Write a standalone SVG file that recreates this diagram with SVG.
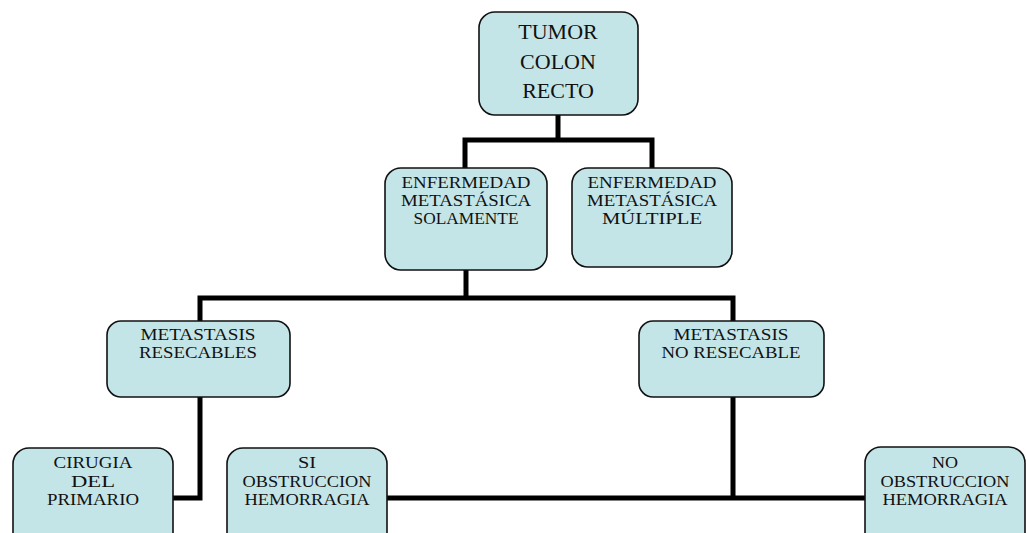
<svg xmlns="http://www.w3.org/2000/svg" width="1026" height="533" viewBox="0 0 1026 533">
<style>
.box{fill:#c4e5e8;stroke:#111;stroke-width:1.6}
text{font-family:'Liberation Serif','DejaVu Serif',serif;fill:#111;text-anchor:middle}
.big{font-size:22px}
.sm{font-size:16px}
.c{fill:none;stroke:#000;stroke-width:5;stroke-linejoin:miter}
</style>
<rect width="1026" height="533" fill="#fff"/>
<g id="connectors">
<path class="c" d="M558 115V140M465 168V140H652V168"/>
<path class="c" d="M466 270V298M200 321V298H733V321"/>
<path class="c" d="M200 397V498H173"/>
<path class="c" d="M733 397V498M387 498H865"/>
</g>
<g id="n-tumor">
<rect class="box" x="479" y="12" width="159" height="103" rx="16"/>
<text class="big" x="558" y="39">TUMOR</text>
<text class="big" x="558" y="68.5">COLON</text>
<text class="big" x="558" y="98">RECTO</text>
</g>
<g id="n-solamente">
<rect class="box" x="385" y="168" width="162" height="102" rx="16"/>
<text class="sm" x="466" y="188" textLength="129" lengthAdjust="spacingAndGlyphs">ENFERMEDAD</text>
<text class="sm" x="466" y="206" textLength="130" lengthAdjust="spacingAndGlyphs">METASTÁSICA</text>
<text class="sm" x="466" y="224" textLength="105" lengthAdjust="spacingAndGlyphs">SOLAMENTE</text>
</g>
<g id="n-multiple">
<rect class="box" x="572" y="168" width="160" height="99" rx="16"/>
<text class="sm" x="652" y="188" textLength="129" lengthAdjust="spacingAndGlyphs">ENFERMEDAD</text>
<text class="sm" x="652" y="206" textLength="130" lengthAdjust="spacingAndGlyphs">METASTÁSICA</text>
<text class="sm" x="652" y="224" textLength="100" lengthAdjust="spacingAndGlyphs">MÚLTIPLE</text>
</g>
<g id="n-resecables">
<rect class="box" x="107" y="321" width="183" height="76" rx="14"/>
<text class="sm" x="198" y="340" textLength="115" lengthAdjust="spacingAndGlyphs">METASTASIS</text>
<text class="sm" x="198" y="358" textLength="118" lengthAdjust="spacingAndGlyphs">RESECABLES</text>
</g>
<g id="n-noresecable">
<rect class="box" x="639" y="321" width="185" height="76" rx="14"/>
<text class="sm" x="731" y="340" textLength="115" lengthAdjust="spacingAndGlyphs">METASTASIS</text>
<text class="sm" x="731" y="358" textLength="139" lengthAdjust="spacingAndGlyphs">NO RESECABLE</text>
</g>
<g id="n-cirugia">
<rect class="box" x="13" y="448" width="160" height="110" rx="16"/>
<text class="sm" x="93" y="468" textLength="79" lengthAdjust="spacingAndGlyphs">CIRUGIA</text>
<text class="sm" x="93" y="486.5" textLength="44" lengthAdjust="spacingAndGlyphs">DEL</text>
<text class="sm" x="93" y="505" textLength="92" lengthAdjust="spacingAndGlyphs">PRIMARIO</text>
</g>
<g id="n-si">
<rect class="box" x="227" y="448" width="160" height="110" rx="16"/>
<text class="sm" x="307" y="468" textLength="18" lengthAdjust="spacingAndGlyphs">SI</text>
<text class="sm" x="307" y="486.5" textLength="129" lengthAdjust="spacingAndGlyphs">OBSTRUCCION</text>
<text class="sm" x="307" y="505" textLength="125" lengthAdjust="spacingAndGlyphs">HEMORRAGIA</text>
</g>
<g id="n-no">
<rect class="box" x="865" y="447" width="160" height="110" rx="16"/>
<text class="sm" x="945" y="468" textLength="26" lengthAdjust="spacingAndGlyphs">NO</text>
<text class="sm" x="945" y="486.5" textLength="129" lengthAdjust="spacingAndGlyphs">OBSTRUCCION</text>
<text class="sm" x="945" y="505" textLength="125" lengthAdjust="spacingAndGlyphs">HEMORRAGIA</text>
</g>
</svg>
